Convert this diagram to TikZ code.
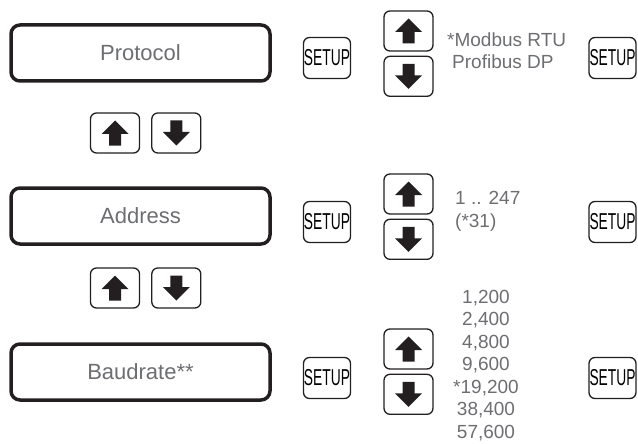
\documentclass[tikz,border=0pt]{standalone}
\usepackage{fontspec}
\setmainfont{Liberation Sans}
\newfontfamily\setupfont[FakeStretch=0.6]{Liberation Sans}
\usetikzlibrary{positioning}
\definecolor{txtgray}{HTML}{6D6E71}
\definecolor{keyline}{HTML}{231F20}

\begin{document}
\begin{tikzpicture}[
  x=1pt, y=-1pt,
  display/.style={draw=keyline, line width=3.5pt, rounded corners=9pt,
                  minimum width=259pt, minimum height=56pt, text=txtgray,
                  font=\fontsize{22}{26}\selectfont},
  setupkey/.style={draw=keyline, line width=1.3pt, rounded corners=6pt,
                   minimum width=47pt, minimum height=41pt, inner sep=0pt,
                   font=\setupfont\fontsize{23}{23}\selectfont},
  key/.style={draw=keyline, line width=1.3pt, rounded corners=6pt,
              minimum width=49pt, minimum height=40pt, inner sep=0pt},
  upkey/.style={key, path picture={
      \fill[keyline, sharp corners]
        ([shift={(0pt,12.5pt)}]path picture bounding box.center)
        -- ++(13.5pt,-13.5pt) -- ++(-7.5pt,0pt) -- ++(0pt,-11.5pt)
        -- ++(-12pt,0pt) -- ++(0pt,11.5pt) -- ++(-7.5pt,0pt) -- cycle;}},
  downkey/.style={key, path picture={
      \fill[keyline, sharp corners]
        ([shift={(0pt,-12.5pt)}]path picture bounding box.center)
        -- ++(13.5pt,13.5pt) -- ++(-7.5pt,0pt) -- ++(0pt,11.5pt)
        -- ++(-12pt,0pt) -- ++(0pt,-11.5pt) -- ++(-7.5pt,0pt) -- cycle;}},
  choices/.style={text=txtgray, align=left, inner sep=0pt,
                  font=\fontsize{19}{22.5}\selectfont}
]
  \useasboundingbox (0,0) rectangle (638,444);

  \node[display] (protocol) at (140.5,53) {Protocol};
  \node[display] (address) at (140.5,216) {Address};
  \node[display] (baudrate) at (140.5,372) {Baudrate**};

  \node[upkey] (upPA) at (115,133) {};
  \node[downkey, right=11pt of upPA] (downPA) {};
  \node[upkey] (upAB) at (115,288) {};
  \node[downkey, right=11pt of upAB] (downAB) {};

  \node[setupkey] (setupP) at (327,58) {SETUP};
  \node[upkey] (upP) at (408.5,31) {};
  \node[downkey, below=4pt of upP] (downP) {};
  \node[choices, anchor=north west] (listP) at (447,32.5)
    {*Modbus RTU\\\hspace*{5pt}Profibus DP};
  \node[setupkey] (nextP) at (612.5,58) {SETUP};

  \node[setupkey] (setupA) at (327,222) {SETUP};
  \node[upkey] (upA) at (408.5,194) {};
  \node[downkey, below=4pt of upA] (downA) {};
  \node[choices, anchor=north west] (listA) at (455,191.5) {1 .. 247\\(*31)};
  \node[setupkey] (nextA) at (612.5,222) {SETUP};

  \node[setupkey] (setupB) at (327,378) {SETUP};
  \node[upkey] (upB) at (408.5,349) {};
  \node[downkey, below=4pt of upB] (downB) {};
  \node[choices, align=center, anchor=north, font=\fontsize{19}{22.5}\selectfont]
    (listB) at (486,290)
    {1,200\\2,400\\4,800\\9,600\\*19,200\\38,400\\57,600};
  \node[setupkey] (nextB) at (612.5,378) {SETUP};
\end{tikzpicture}
\end{document}
